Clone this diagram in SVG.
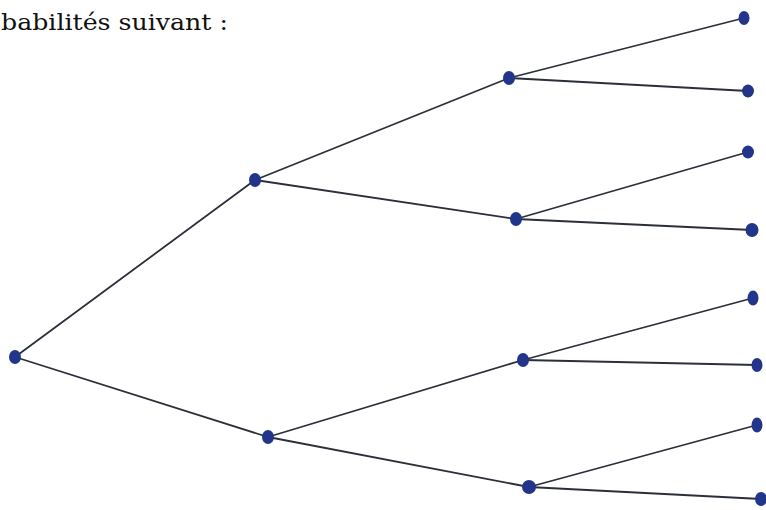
<svg xmlns="http://www.w3.org/2000/svg" width="766" height="510" viewBox="0 0 766 510">
<style>
.t{font-family:"DejaVu Serif","Liberation Serif",serif;font-size:23px;fill:#111}
.e line{stroke:#2b2f3a;stroke-width:1.8;stroke-linecap:round}
.n{fill:#22358a}
</style>
<rect width="766" height="510" fill="#fff"/>
<text class="t" x="1" y="30" textLength="227" lengthAdjust="spacingAndGlyphs">babilités suivant :</text>
<g id="connectors" class="e">
<line x1="15" y1="357" x2="255" y2="180"/>
<line x1="15" y1="357" x2="268" y2="437"/>
<line x1="255" y1="180" x2="509" y2="78"/>
<line x1="255" y1="180" x2="516" y2="219"/>
<line x1="268" y1="437" x2="523" y2="360"/>
<line x1="268" y1="437" x2="529" y2="487"/>
<line x1="509" y1="78" x2="744" y2="18"/>
<line x1="509" y1="78" x2="748" y2="91"/>
<line x1="516" y1="219" x2="748" y2="152"/>
<line x1="516" y1="219" x2="752" y2="230"/>
<line x1="523" y1="360" x2="753" y2="298"/>
<line x1="523" y1="360" x2="757" y2="365"/>
<line x1="529" y1="487" x2="757" y2="425"/>
<line x1="529" y1="487" x2="761" y2="499"/>
</g>
<g id="root"><ellipse class="n" cx="15" cy="357" rx="6" ry="7"/></g>
<g id="n1"><ellipse class="n" cx="255" cy="180" rx="6" ry="7"/></g>
<g id="n2"><ellipse class="n" cx="268" cy="437" rx="6" ry="7"/></g>
<g id="n11"><ellipse class="n" cx="509" cy="78" rx="6" ry="7"/></g>
<g id="n12"><ellipse class="n" cx="516" cy="219" rx="6" ry="7"/></g>
<g id="n21"><ellipse class="n" cx="523" cy="360" rx="6" ry="7"/></g>
<g id="n22"><ellipse class="n" cx="529" cy="487" rx="7" ry="7"/></g>
<g id="l1"><ellipse class="n" cx="744" cy="18" rx="5.5" ry="7"/></g>
<g id="l2"><ellipse class="n" cx="748" cy="91" rx="6" ry="6.5"/></g>
<g id="l3"><ellipse class="n" cx="748" cy="152" rx="6" ry="6.5"/></g>
<g id="l4"><ellipse class="n" cx="752" cy="230" rx="6.5" ry="7"/></g>
<g id="l5"><ellipse class="n" cx="753" cy="298" rx="5.5" ry="7.5"/></g>
<g id="l6"><ellipse class="n" cx="757" cy="365" rx="5.5" ry="7"/></g>
<g id="l7"><ellipse class="n" cx="757" cy="425" rx="5.5" ry="7.5"/></g>
<g id="l8"><ellipse class="n" cx="761" cy="499" rx="6" ry="7"/></g>
</svg>
